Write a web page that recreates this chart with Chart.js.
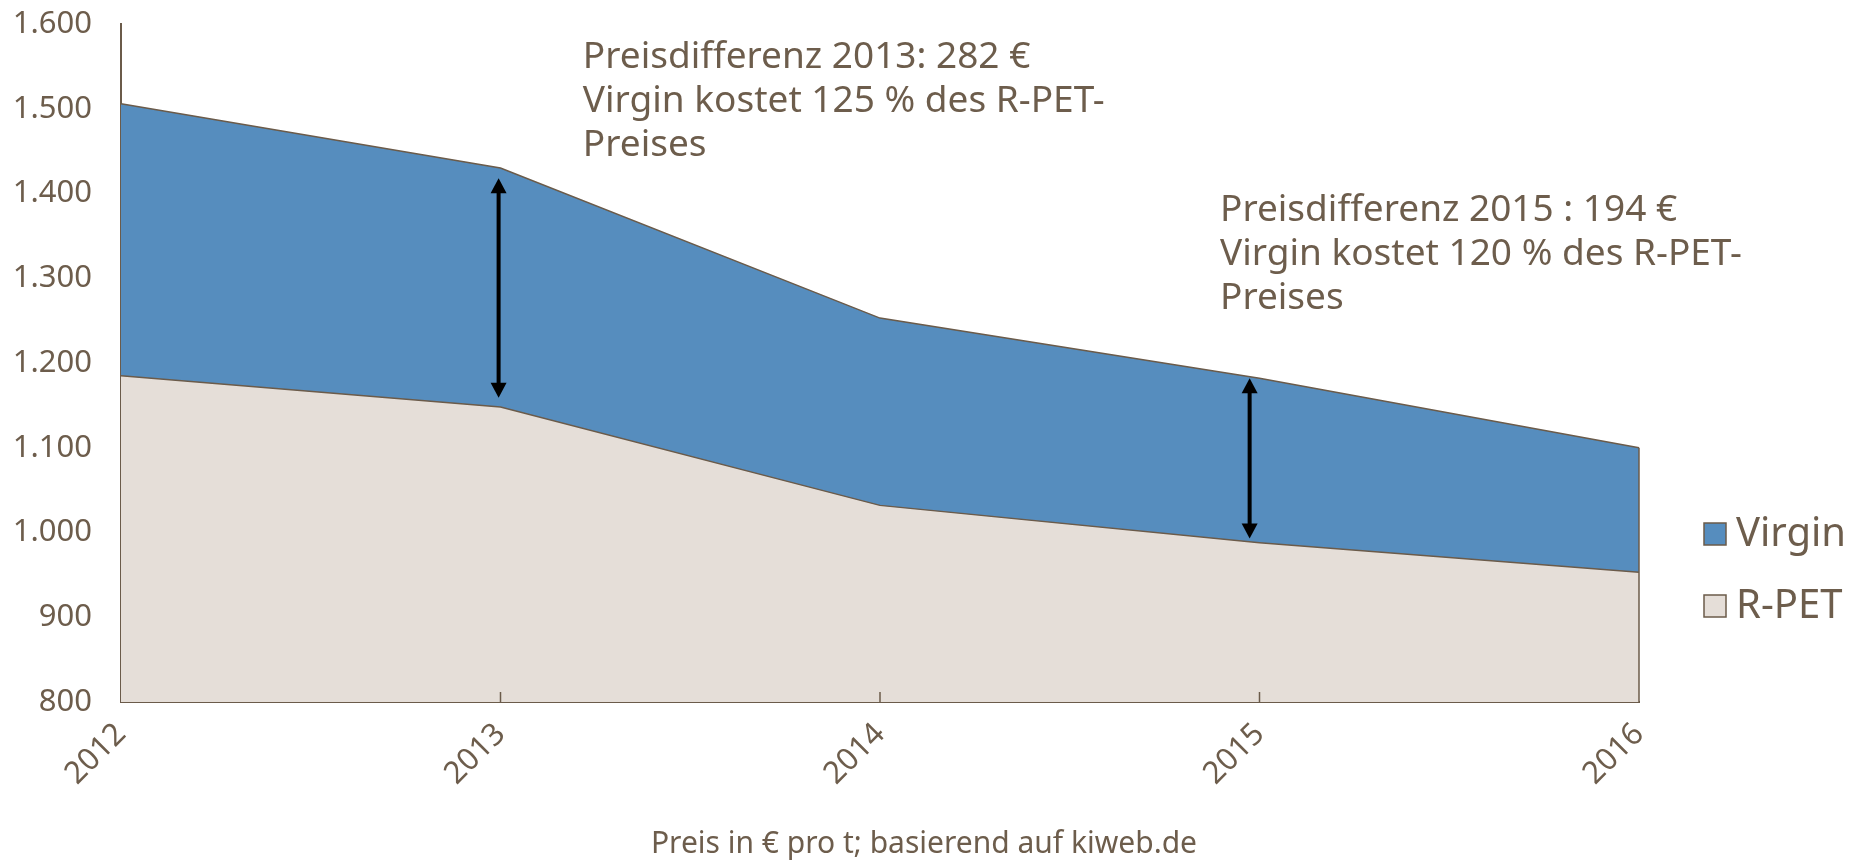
<!DOCTYPE html>
<html lang="de">
<head>
<meta charset="utf-8">
<title>Virgin vs. R-PET</title>
<script src="https://cdn.jsdelivr.net/npm/chart.js@4.4.1/dist/chart.umd.min.js"></script>
<style>
    html, body { margin: 0; padding: 0; background: #fff; }
</style>
</head>
<body>
<canvas id="chart" width="1863" height="862"></canvas>
<script>
const years = ['2012', '2013', '2014', '2015', '2016'];
const virgin = [1506, 1430, 1253, 1182, 1100];
const rpet = [1185, 1148, 1032, 988, 953];

// Doppelpfeile: Kategorie-Index, von / bis (Wert)
const arrows = [
    { x: 0.995, from: 1418, to: 1159 },
    { x: 2.974, from: 1182, to: 993 }
];

// Beschriftungen im Diagramm
const notes = [
    { x: 1.217, y: 1548, lines: ['Preisdifferenz 2013: 282 €', 'Virgin kostet 125 % des R-PET-', 'Preises'] },
    { x: 2.896, y: 1368, lines: ['Preisdifferenz 2015 : 194 €', 'Virgin kostet 120 % des R-PET-', 'Preises'] }
];

const footer = 'Preis in € pro t; basierend auf kiweb.de';

const brown = '#6b5b4a';
const textColor = '#6d5d4c';
const blue = '#568dbe';
const beige = '#e5ded8';

const extras = {
    id: 'extras',
    afterDatasetsDraw(chart) {
        const ctx = chart.ctx;
        const x = chart.scales.x;
        const y = chart.scales.y;
        const area = chart.chartArea;
        ctx.save();

        // rechte Kante der Flächen
        const last = years.length - 1;
        ctx.strokeStyle = brown;
        ctx.lineWidth = 1.5;
        ctx.beginPath();
        ctx.moveTo(x.getPixelForValue(last), y.getPixelForValue(virgin[last]));
        ctx.lineTo(x.getPixelForValue(last), area.bottom);
        ctx.stroke();

        // kleine Striche nach innen
        for (let i = 1; i < last; i++) {
            const px = x.getPixelForValue(i);
            ctx.beginPath();
            ctx.moveTo(px, area.bottom);
            ctx.lineTo(px, area.bottom - 10);
            ctx.stroke();
        }

        // Pfeile
        ctx.strokeStyle = '#000';
        ctx.fillStyle = '#000';
        ctx.lineWidth = 4;
        arrows.forEach(a => {
            const px = x.getPixelForValue(a.x);
            const y1 = y.getPixelForValue(a.from);
            const y2 = y.getPixelForValue(a.to);
            const head = 15;
            ctx.beginPath();
            ctx.moveTo(px, y1 + head - 1);
            ctx.lineTo(px, y2 - head + 1);
            ctx.stroke();
            ctx.beginPath();
            ctx.moveTo(px, y1);
            ctx.lineTo(px - 8, y1 + head);
            ctx.lineTo(px + 8, y1 + head);
            ctx.closePath();
            ctx.fill();
            ctx.beginPath();
            ctx.moveTo(px, y2);
            ctx.lineTo(px - 8, y2 - head);
            ctx.lineTo(px + 8, y2 - head);
            ctx.closePath();
            ctx.fill();
        });

        // Texte
        ctx.fillStyle = textColor;
        ctx.font = '37px "Noto Sans"';
        ctx.textAlign = 'left';
        ctx.textBaseline = 'alphabetic';
        notes.forEach(n => {
            const px = x.getPixelForValue(n.x);
            const py = y.getPixelForValue(n.y);
            n.lines.forEach((t, i) => ctx.fillText(t, px, py + i * 44));
        });

        // Legende
        ctx.font = '40px "Noto Sans"';
        ctx.textBaseline = 'middle';
        const items = [chart.data.datasets[0], chart.data.datasets[1]];
        items.forEach((ds, i) => {
            const cy = 534 + i * 72;
            ctx.fillStyle = ds.backgroundColor;
            ctx.fillRect(1704, cy - 11, 22, 22);
            ctx.strokeStyle = brown;
            ctx.lineWidth = 1.5;
            ctx.strokeRect(1704, cy - 11, 22, 22);
            ctx.fillStyle = textColor;
            ctx.fillText(ds.label, 1736, cy + 1);
        });

        // Fußzeile
        ctx.font = '30px "Noto Sans"';
        ctx.textAlign = 'center';
        ctx.fillText(footer, 924, 844);
        ctx.restore();
    }
};

const tickFont = { family: 'Noto Sans', size: 31 };

new Chart(document.getElementById('chart').getContext('2d'), {
    type: 'line',
    data: {
        labels: years,
        datasets: [{
            label: 'Virgin',
            data: virgin,
            backgroundColor: blue,
            borderColor: brown,
            borderWidth: 1.5,
            fill: 'start',
            pointRadius: 0,
            order: 2
        }, {
            label: 'R-PET',
            data: rpet,
            backgroundColor: beige,
            borderColor: brown,
            borderWidth: 1.5,
            fill: 'start',
            pointRadius: 0,
            order: 1
        }]
    },
    plugins: [extras],
    options: {
        responsive: false,
        animation: false,
        layout: { padding: { top: 24, right: 224, left: 0, bottom: 0 } },
        plugins: {
            legend: { display: false },
            tooltip: { enabled: false }
        },
        scales: {
            x: {
                offset: false,
                grid: { display: false, drawTicks: false },
                border: { color: brown, width: 2 },
                ticks: {
                    minRotation: 45,
                    maxRotation: 45,
                    padding: 14,
                    color: textColor,
                    font: tickFont
                },
                afterFit: (axis) => { axis.height = 160; }
            },
            y: {
                min: 800,
                max: 1600,
                grid: { display: false, drawTicks: false },
                border: { color: brown, width: 2 },
                ticks: {
                    stepSize: 100,
                    padding: 29,
                    color: textColor,
                    font: tickFont,
                    callback: (v) => String(v).replace(/\B(?=(\d{3})+(?!\d))/g, '.')
                },
                afterFit: (axis) => {
                    axis.width = 121;
                    axis.paddingTop = 0;
                    axis.paddingBottom = 0;
                }
            }
        }
    }
});
</script>
</body>
</html>
